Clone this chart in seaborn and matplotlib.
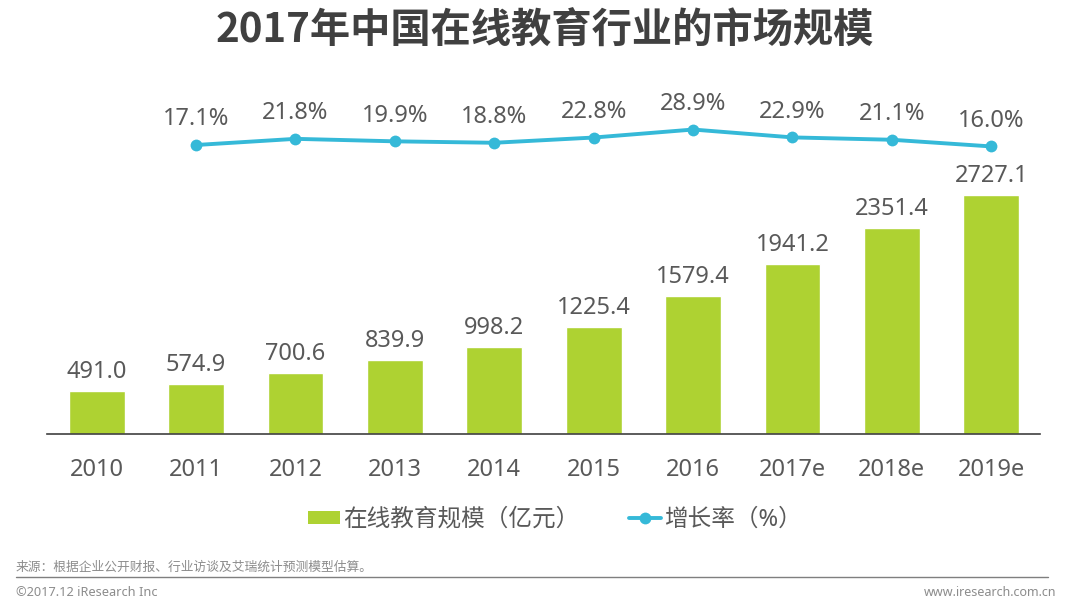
import matplotlib
matplotlib.use("Agg")
import matplotlib.pyplot as plt
from matplotlib.lines import Line2D
from matplotlib.patches import Patch
import pandas as pd
import seaborn as sns

# === Data ===
years = ["2010", "2011", "2012", "2013", "2014", "2015", "2016", "2017e", "2018e", "2019e"]
market_size = [491.0, 574.9, 700.6, 839.9, 998.2, 1225.4, 1579.4, 1941.2, 2351.4, 2727.1]
# growth starts one year later than the bars
growth_years = years[1:]
growth_rate = [17.1, 21.8, 19.9, 18.8, 22.8, 28.9, 22.9, 21.1, 16.0]

title = "2017年中国在线教育行业的市场规模"
bar_label = "在线教育规模（亿元）"
line_label = "增长率（%）"
source_note = "来源：根据企业公开财报、行业访谈及艾瑞统计预测模型估算。"
copyright_note = "©2017.12 iResearch Inc"
site_note = "www.iresearch.com.cn"

GREEN = "#aed232"
BLUE = "#35b9d8"
GREY = "#595959"
LIGHT_GREY = "#8c8c8c"

W, H = 1080, 602


def px_axes(fig, left, top, right, bottom):
    """Axes placed by reference pixel coordinates."""
    return fig.add_axes([left / W, 1 - bottom / H, (right - left) / W, (bottom - top) / H])


sns.set_theme(style="white")
plt.rcParams["font.family"] = ["Noto Sans", "Noto Sans CJK SC", "DejaVu Sans"]

df = pd.DataFrame({"year": years, "size": market_size})
df_line = pd.DataFrame({"year": growth_years, "rate": growth_rate})

fig = plt.figure(figsize=(W / 100, H / 100), dpi=100)

# --- bars ---
ax = px_axes(fig, 47, 170, 1040, 434)
sns.barplot(data=df, x="year", y="size", color=GREEN, width=0.56, saturation=1, ax=ax)
ax.set_xlim(-0.5, 9.49)
ax.set_ylim(0, 264 * 2727.1 / 239)
ax.set_xlabel("")
ax.set_ylabel("")
ax.set_yticks([])
sns.despine(ax=ax, left=True)
ax.spines["bottom"].set_color("#404040")
ax.spines["bottom"].set_linewidth(1.2)
ax.tick_params(axis="x", length=0, pad=17, labelsize=17, labelcolor=GREY)
for i, v in enumerate(market_size):
    ax.annotate(f"{v:.1f}", (i, v), xytext=(0, 5), textcoords="offset points",
                ha="center", va="bottom", fontsize=17, color=GREY)

# --- growth line, own axes above the bars ---
ax2 = px_axes(fig, 47, 90, 1040, 160)
ax2.patch.set_alpha(0)
sns.lineplot(data=df_line, x="year", y="rate", color=BLUE, linewidth=2.8, marker="o",
             markersize=8.5, markeredgewidth=0, sort=False, ax=ax2)
# keep the year slots the same as the bars
ax2.set_xlim(-1.5, 8.49)
ax2.set_ylim(5.65, 5.65 + 70 / 1.31)
ax2.axis("off")
for i, v in enumerate(growth_rate):
    ax2.annotate(f"{v:.1f}%", (i, v), xytext=(0, 18.5), textcoords="offset points",
                 ha="center", va="center", fontsize=17, color=GREY)

# --- legend ---
handles = [Patch(facecolor=GREEN, edgecolor="none"),
           Line2D([0], [0], color=BLUE, linewidth=2.8, marker="o", markersize=8.5, markeredgewidth=0)]
fig.legend(handles, [bar_label, line_label], loc="center", bbox_to_anchor=(555 / W, 1 - 520 / H),
           ncol=2, frameon=False, fontsize=17, labelcolor=GREY, handlelength=1.35,
           handleheight=0.5, handletextpad=0.15, columnspacing=2.1)

# --- title and footer ---
fig.text(545 / W, 1 - 31 / H, title, ha="center", va="center", fontsize=29, fontweight="bold",
         color="#404040", family="Noto Sans CJK SC")
fig.text(16 / W, 1 - 567 / H, source_note, ha="left", va="center", fontsize=9.2, color=LIGHT_GREY)
fig.add_artist(Line2D([16 / W, 1048 / W], [1 - 577 / H, 1 - 577 / H], color="#7f7f7f", linewidth=1))
fig.text(16 / W, 1 - 593 / H, copyright_note, ha="left", va="center", fontsize=9.2, color=LIGHT_GREY)
fig.text(1056 / W, 1 - 593 / H, site_note, ha="right", va="center", fontsize=9, color=LIGHT_GREY)

fig.savefig("out.png", dpi=100)
